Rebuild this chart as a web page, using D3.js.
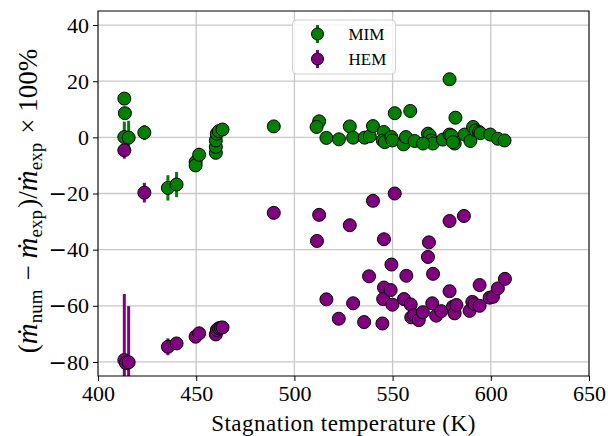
<!DOCTYPE html>
<html>
<head>
<meta charset="utf-8">
<script src="https://cdn.jsdelivr.net/npm/d3@7"></script>
<style>
  body { margin: 0; background: #fff; }
  svg text { font-family: "Liberation Serif", "DejaVu Serif", serif; }
</style>
</head>
<body>
<svg width="608" height="436"></svg>
<script>
// MIM series: stagnation temperature (K), deviation (%), error bar half-size
var mimT = [413.4, 413.7, 413.4, 415.6, 423.6, 435.6, 440.0, 449.7, 449.7, 451.5,
            460.0, 460.0, 460.0, 460.5, 461.5, 463.4, 489.5,
            512.6, 511.3, 516.3, 522.7, 528.2, 529.9, 535.8, 538.4, 540.0, 545.5,
            545.0, 546.0, 549.4, 549.9, 551.1, 559.0, 555.6, 556.8, 561.2, 568.0,
            568.9, 569.7, 570.5, 565.5, 575.6, 579.0, 582.0, 581.6, 579.0, 579.9,
            580.7, 586.7, 589.6, 591.0, 592.3, 594.0, 594.7, 599.7, 603.6, 607.0];
var mimDev = [13.8, 8.6, 0.1, -0.1, 1.7, -18.0, -16.8, -8.8, -10.0, -6.2,
              -5.5, -3.4, -1.1, 1.3, 2.2, 2.8, 3.9,
              5.7, 3.7, -0.2, -0.7, 3.9, -0.1, -0.1, 0.4, 4.0, 1.9,
              -1.1, -1.7, 0.1, -1.1, 8.6, 9.4, -2.5, 0.1, -1.3, 1.3,
              0.7, -1.1, -2.2, -2.2, -0.8, 1.0, 7.0, -2.2, 20.7, 0.7,
              -1.7, 1.0, -1.3, 3.7, 2.5, 1.9, 1.5, 1.0, -0.5, -1.1];
var mimErr = [1.5, 1.5, 5.5, 6.0, 2.7, 4.5, 4.5, 3.0, 2.0, 2.5,
              1, 1, 1, 1, 1, 1, 1,
              1, 1, 1, 1, 1, 1, 1, 1, 1, 1,
              1, 1, 1, 1, 1, 1, 1, 1, 1, 1,
              1, 1, 1, 1, 1, 1, 1, 1, 1, 1,
              1, 1, 1, 1, 1, 1, 1, 1, 1, 1];

// HEM series
var hemT = [413.4, 423.6, 413.4, 414.2, 415.6, 435.6, 440.0, 449.7, 451.5,
            460.0, 460.5, 461.5, 462.5, 463.4, 489.5,
            512.6, 511.5, 516.3, 528.2, 522.6, 529.9, 535.5, 540.0, 538.0, 545.6,
            544.8, 545.6, 545.2, 549.4, 549.0, 551.1, 549.9, 555.8, 557.0, 559.2,
            559.5, 560.9, 563.3, 565.4, 568.5, 568.0, 570.6, 570.2, 572.2, 574.8,
            579.0, 579.0, 580.7, 581.6, 582.5, 586.3, 589.2, 590.6, 591.7, 594.3,
            594.3, 599.4, 601.1, 603.6, 607.2];
var hemDev = [-4.6, -19.7, -79.3, -80.4, -80.1, -74.6, -73.4, -71.0, -69.8,
              -70.2, -68.6, -68.0, -67.8, -67.7, -26.9,
              -27.6, -36.9, -57.7, -31.3, -64.6, -59.1, -65.8, -22.6, -49.5, -36.3,
              -66.3, -53.5, -57.6, -45.3, -54.4, -20.0, -59.6, -57.6, -49.3, -59.5,
              -64.1, -63.3, -65.1, -62.3, -37.4, -42.6, -48.6, -59.1, -63.5, -61.9,
              -29.8, -54.8, -60.3, -62.7, -59.7, -28.0, -61.8, -58.6, -59.4, -60.0,
              -52.6, -57.1, -56.8, -53.8, -50.4];
var hemErr = [3.0, 3.5, 23.5, 2.0, 20.0, 3.0, 1.5, 1.5, 1.5,
              1, 1, 1, 1, 1, 1,
              1, 1, 1, 1, 1, 1, 1, 1, 1, 1,
              1, 1, 1, 1, 1, 1, 1, 1, 1, 1,
              1, 1, 1, 1, 1, 1, 1, 1, 1, 1,
              1, 1, 1, 1, 1, 1, 1, 1, 1, 1,
              1, 1, 1, 1, 1];

var xTicks = [400, 450, 500, 550, 600, 650];
var yTicks = [-80, -60, -40, -20, 0, 20, 40];
var seriesNames = ["MIM", "HEM"];
var seriesColors = ["#008000", "#800080"];

var svg = d3.select("svg"),
    margin = {top: 11, right: 19, bottom: 60, left: 98},
    width = 608 - margin.left - margin.right,
    height = 436 - margin.top - margin.bottom;

var x = d3.scaleLinear().domain([400, 650]).range([0, width]);
var y = d3.scaleLinear().domain([-85, 45]).range([height, 0]);

// y label
var yl = svg.append("text")
    .attr("transform", "translate(37,201) rotate(-90)")
    .attr("text-anchor", "middle").attr("font-size", 27);
function mdot(sub) {
    yl.append("tspan").attr("font-style", "italic").attr("font-size", 29).text("\u1E41");
    yl.append("tspan").attr("font-size", 19).attr("dy", 5).text(sub);
    yl.append("tspan").attr("dy", -5).text("\u200A");
}
yl.append("tspan").text("(");
mdot("num");
yl.append("tspan").text(" \u2212 ");
mdot("exp");
yl.append("tspan").text(")/");
mdot("exp");
yl.append("tspan").text(" \u00D7 100%");

var g = svg.append("g").attr("transform", "translate(" + margin.left + "," + margin.top + ")");

svg.append("defs").append("clipPath").attr("id", "plotclip")
    .append("rect").attr("width", width).attr("height", height);

// grid
g.append("g").selectAll("line").data(xTicks).enter().append("line")
    .attr("x1", function(d) { return x(d); }).attr("x2", function(d) { return x(d); })
    .attr("y1", 0).attr("y2", height)
    .attr("stroke", "#c8c8c8").attr("stroke-width", 1.3);
g.append("g").selectAll("line").data(yTicks).enter().append("line")
    .attr("y1", function(d) { return y(d); }).attr("y2", function(d) { return y(d); })
    .attr("x1", 0).attr("x2", width)
    .attr("stroke", "#c8c8c8").attr("stroke-width", 1.3);

var series = [
    {name: "MIM", color: seriesColors[0], pts: mimT.map(function(t, i) { return {t: t, v: mimDev[i], e: mimErr[i]}; })},
    {name: "HEM", color: seriesColors[1], pts: hemT.map(function(t, i) { return {t: t, v: hemDev[i], e: hemErr[i]}; })}
];

var plot = g.append("g").attr("clip-path", "url(#plotclip)");

series.forEach(function(s) {
    plot.append("g").selectAll("line").data(s.pts).enter().append("line")
        .attr("x1", function(d) { return x(d.t); }).attr("x2", function(d) { return x(d.t); })
        .attr("y1", function(d) { return y(d.v - d.e); })
        .attr("y2", function(d) { return y(d.v + d.e); })
        .attr("stroke", s.color).attr("stroke-width", 3);
    plot.append("g").selectAll("circle").data(s.pts).enter().append("circle")
        .attr("cx", function(d) { return x(d.t); })
        .attr("cy", function(d) { return y(d.v); })
        .attr("r", 6.5)
        .attr("fill", s.color)
        .attr("stroke", "#000").attr("stroke-width", 1);
});

// axes
var xAxis = g.append("g")
    .attr("transform", "translate(0," + height + ")")
    .call(d3.axisBottom(x).tickValues(xTicks).tickSize(5).tickPadding(4));
var yAxis = g.append("g")
    .call(d3.axisLeft(y).tickValues(yTicks).tickSize(5).tickPadding(4));
[xAxis, yAxis].forEach(function(a) {
    a.select(".domain").remove();
    a.selectAll("line").attr("stroke", "#000").attr("stroke-width", 1);
    a.selectAll("text").attr("font-family", "Liberation Serif, serif")
        .attr("font-size", 22).attr("fill", "#000");
});
// wider minus sign like the TeX one
yAxis.selectAll(".tick text").each(function(d) {
    var t = d3.select(this).text("");
    if (d < 0) t.append("tspan").attr("font-family", "DejaVu Sans").text("\u2212");
    t.append("tspan").text(Math.abs(d));
});

// frame
g.append("rect").attr("width", width).attr("height", height)
    .attr("fill", "none").attr("stroke", "#000").attr("stroke-width", 1);

// x label
g.append("text")
    .attr("x", width / 2).attr("y", height + 55)
    .attr("text-anchor", "middle").attr("font-size", 23)
    .attr("letter-spacing", 0.5)
    .text("Stagnation temperature (K)");

// legend
var lg = svg.append("g").attr("transform", "translate(292.5,20)");
lg.append("rect").attr("width", 103).attr("height", 54).attr("rx", 4)
    .attr("fill", "#fff").attr("fill-opacity", 0.8)
    .attr("stroke", "#d0d0d0").attr("stroke-width", 1);
seriesNames.forEach(function(n, i) {
    var row = lg.append("g").attr("transform", "translate(0," + (14 + i * 25) + ")");
    row.append("line").attr("x1", 25).attr("x2", 25).attr("y1", -9).attr("y2", 9)
        .attr("stroke", seriesColors[i]).attr("stroke-width", 3);
    row.append("circle").attr("cx", 25).attr("cy", 0).attr("r", 6)
        .attr("fill", seriesColors[i]).attr("stroke", "#000").attr("stroke-width", 1);
    row.append("text").attr("x", 56).attr("y", 6).attr("font-size", 17).text(n);
});
</script>
</body>
</html>
